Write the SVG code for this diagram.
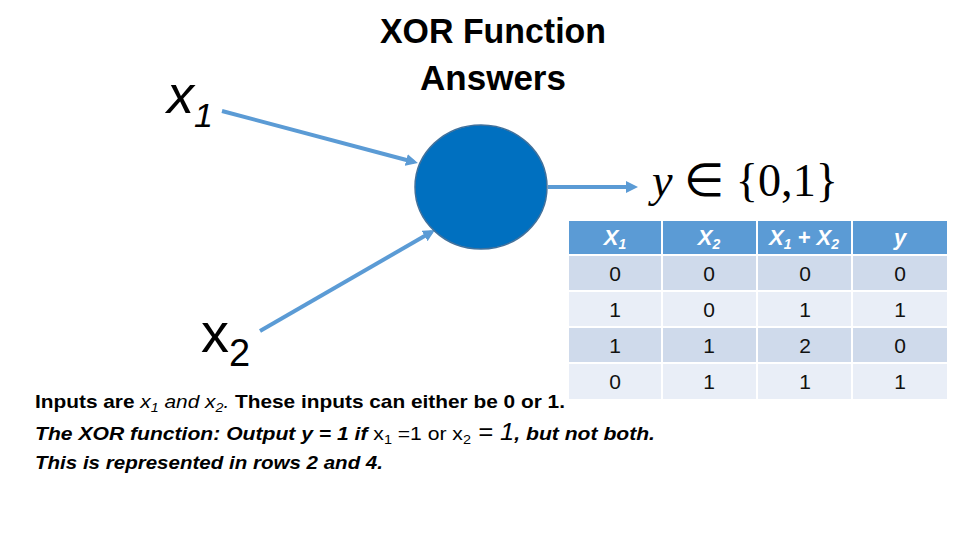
<svg xmlns="http://www.w3.org/2000/svg" width="960" height="540" viewBox="0 0 960 540">
<style>
.title{font-family:"Liberation Sans",Arial,sans-serif;font-weight:bold;font-size:35px;fill:#000;text-anchor:middle}
.lbl{font-family:"Liberation Sans",Arial,sans-serif;fill:#000}
.hdr{fill:#5B9BD5}
.r1{fill:#CFDAEB}
.r2{fill:#E9EEF7}
.ht{font-family:"Liberation Sans",Arial,sans-serif;font-weight:bold;font-style:italic;font-size:22px;fill:#fff;text-anchor:middle}
.bt{font-family:"Liberation Sans",Arial,sans-serif;font-size:21px;fill:#111;text-anchor:middle}
.note{font-family:"Liberation Sans",Arial,sans-serif;font-size:19px;fill:#000}
.conn{stroke:#5B9BD5;stroke-width:4;fill:none}
</style>
<defs>
<marker id="ah" markerWidth="3" markerHeight="3" refX="2" refY="1.5" orient="auto" markerUnits="strokeWidth">
<path d="M0,0 L3,1.5 L0,3 z" fill="#5B9BD5"/>
</marker>
</defs>
<rect width="960" height="540" fill="#fff"/>

<g id="title">
<text class="title" x="493" y="43" textLength="226" lengthAdjust="spacingAndGlyphs">XOR Function</text>
<text class="title" x="493" y="90">Answers</text>
</g>

<g id="connectors">
<line class="conn" x1="222" y1="111" x2="414" y2="162" marker-end="url(#ah)"/>
<line class="conn" x1="260" y1="331" x2="431.5" y2="232" marker-end="url(#ah)"/>
<line class="conn" x1="548" y1="187" x2="634" y2="187" marker-end="url(#ah)"/>
</g>

<g id="node-x1">
<text class="lbl" x="167" y="113" font-size="54" font-style="italic">x<tspan font-size="34" dy="14">1</tspan></text>
</g>
<g id="node-x2">
<text class="lbl" x="201" y="352" font-size="56">x<tspan font-size="38" dy="14">2</tspan></text>
</g>
<g id="node-neuron">
<ellipse cx="481" cy="187" rx="66" ry="62" fill="#0070C0" stroke="#41719C" stroke-width="1.5"/>
</g>
<g id="node-output">
<text x="652" y="196" font-family="'Liberation Serif','Times New Roman',serif" font-size="46" fill="#000" textLength="186" lengthAdjust="spacingAndGlyphs"><tspan font-style="italic">y</tspan> ∈ {0,1}</text>
</g>

<g id="table">
<rect class="hdr" x="569" y="221" width="92" height="33"/>
<rect class="hdr" x="663" y="221" width="93" height="33"/>
<rect class="hdr" x="758" y="221" width="93" height="33"/>
<rect class="hdr" x="853" y="221" width="94" height="33"/>
<rect class="r1" x="569" y="256" width="92" height="34"/>
<rect class="r1" x="663" y="256" width="93" height="34"/>
<rect class="r1" x="758" y="256" width="93" height="34"/>
<rect class="r1" x="853" y="256" width="94" height="34"/>
<rect class="r2" x="569" y="292" width="92" height="34"/>
<rect class="r2" x="663" y="292" width="93" height="34"/>
<rect class="r2" x="758" y="292" width="93" height="34"/>
<rect class="r2" x="853" y="292" width="94" height="34"/>
<rect class="r1" x="569" y="328" width="92" height="34"/>
<rect class="r1" x="663" y="328" width="93" height="34"/>
<rect class="r1" x="758" y="328" width="93" height="34"/>
<rect class="r1" x="853" y="328" width="94" height="34"/>
<rect class="r2" x="569" y="364" width="92" height="35"/>
<rect class="r2" x="663" y="364" width="93" height="35"/>
<rect class="r2" x="758" y="364" width="93" height="35"/>
<rect class="r2" x="853" y="364" width="94" height="35"/>

<text class="ht" x="615" y="245">X<tspan font-size="14" dy="4">1</tspan></text>
<text class="ht" x="709" y="245">X<tspan font-size="14" dy="4">2</tspan></text>
<text class="ht" x="804" y="245">X<tspan font-size="14" dy="4">1</tspan><tspan dy="-4"> + X</tspan><tspan font-size="14" dy="4">2</tspan></text>
<text class="ht" x="900" y="245">y</text>

<text class="bt" x="615" y="281">0</text>
<text class="bt" x="709" y="281">0</text>
<text class="bt" x="805" y="281">0</text>
<text class="bt" x="900" y="281">0</text>
<text class="bt" x="615" y="317">1</text>
<text class="bt" x="709" y="317">0</text>
<text class="bt" x="805" y="317">1</text>
<text class="bt" x="900" y="317">1</text>
<text class="bt" x="615" y="353">1</text>
<text class="bt" x="709" y="353">1</text>
<text class="bt" x="805" y="353">2</text>
<text class="bt" x="900" y="353">0</text>
<text class="bt" x="615" y="389">0</text>
<text class="bt" x="709" y="389">1</text>
<text class="bt" x="805" y="389">1</text>
<text class="bt" x="900" y="389">1</text>
</g>

<g id="notes">
<text class="note" x="35" y="408" textLength="530" lengthAdjust="spacingAndGlyphs"><tspan font-weight="bold">Inputs are </tspan><tspan font-style="italic">x</tspan><tspan font-style="italic" font-size="13" dy="4">1</tspan><tspan font-style="italic" dy="-4"> and x</tspan><tspan font-style="italic" font-size="13" dy="4">2</tspan><tspan font-style="italic" dy="-4">.</tspan><tspan font-weight="bold"> These inputs can either be 0 or 1.</tspan></text>
<text class="note" x="35" y="440" textLength="620" lengthAdjust="spacingAndGlyphs"><tspan font-weight="bold" font-style="italic">The XOR function:  Output y = 1 if </tspan><tspan>x</tspan><tspan font-size="13" dy="4">1</tspan><tspan dy="-4"> =1 or x</tspan><tspan font-size="13" dy="4">2</tspan><tspan dy="-4" font-size="23" font-style="italic"> = 1</tspan><tspan font-weight="bold" font-style="italic">, but not both.</tspan></text>
<text class="note" x="35" y="469" font-weight="bold" font-style="italic" textLength="348" lengthAdjust="spacingAndGlyphs">This is represented in rows 2 and 4.</text>
</g>
</svg>
